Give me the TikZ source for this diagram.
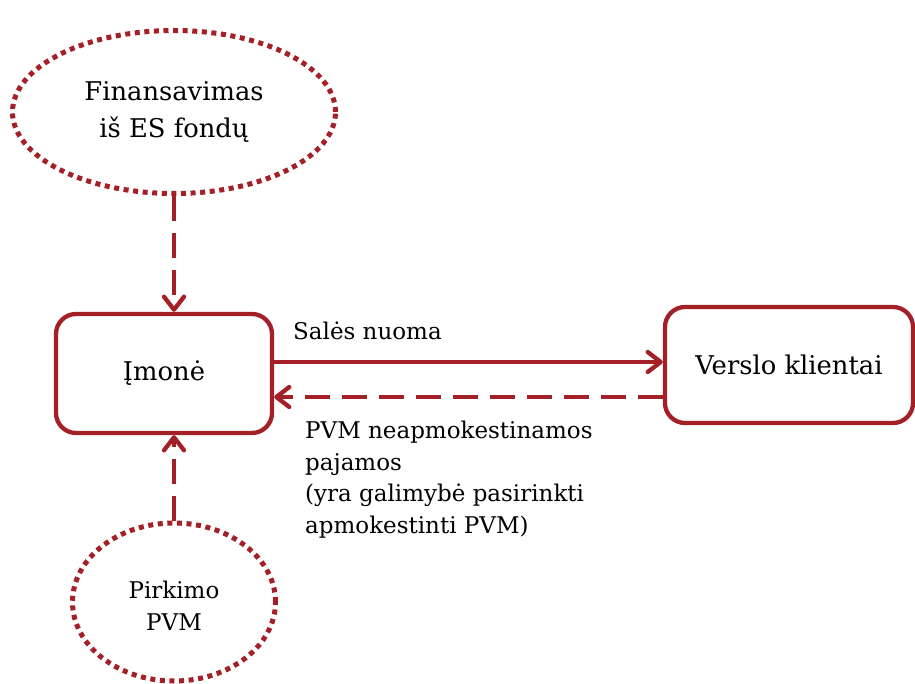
\documentclass[tikz,border=0pt]{standalone}
\usepackage{fontspec}
\setmainfont{DejaVu Serif}
\usetikzlibrary{shapes.geometric,arrows.meta}
\definecolor{dred}{RGB}{163,32,38}
\tikzset{
  bigtxt/.style={font=\fontsize{25.8}{37}\selectfont},
  smalltxt/.style={font=\fontsize{23}{31.5}\selectfont},
  dotell/.style={ellipse,draw=dred,line width=5pt,dash pattern=on 5pt off 4.6pt,inner sep=0pt,align=center},
  rbox/.style={rectangle,rounded corners=20pt,draw=dred,line width=4.3pt,inner sep=0pt,align=center},
  conn/.style={draw=dred,line width=4.3pt,-{Straight Barb[length=13pt,width=20pt,round]}},
  dconn/.style={conn,dash pattern=on 25pt off 12pt},
}
\begin{document}
\begin{tikzpicture}[x=1pt,y=-1pt]
\useasboundingbox (0,0) rectangle (915,684);
\node[dotell,bigtxt,minimum width=323pt,minimum height=163pt] (fin) at (174,112) {Finansavimas\\iš ES fondų};
\node[dotell,minimum width=203pt,minimum height=158pt] (pirk) at (174,602) {};
\node[smalltxt,align=center,inner sep=0pt,font=\fontsize{23}{32}\selectfont] (pirkt) at (174,606) {Pirkimo\\PVM};
\node[rbox,bigtxt,minimum width=216pt,minimum height=119pt] (imone) at (164,373.5) {Įmonė};
\node[rbox,bigtxt,minimum width=248pt,minimum height=116pt] (versl) at (789,365) {Verslo klientai};
\coordinate (yS) at (0,362);
\coordinate (yD) at (0,397);
\draw[conn] (imone.east |- yS) -- (versl.west |- yS);
\draw[dconn] (versl.west |- yD) -- (imone.east |- yD);
\draw[dconn] (fin.south) -- (fin.south |- imone.north);
\draw[dconn] (pirk.north) -- (pirk.north |- imone.south);
\node[smalltxt,anchor=base west,inner sep=0pt] (sal) at (293,339.5) {Salės nuoma};
\node[smalltxt,anchor=north west,inner sep=0pt,align=left] (pvm) at (305,421) {PVM neapmokestinamos\\pajamos\\(yra galimybė pasirinkti\\apmokestinti PVM)};
\end{tikzpicture}
\end{document}
